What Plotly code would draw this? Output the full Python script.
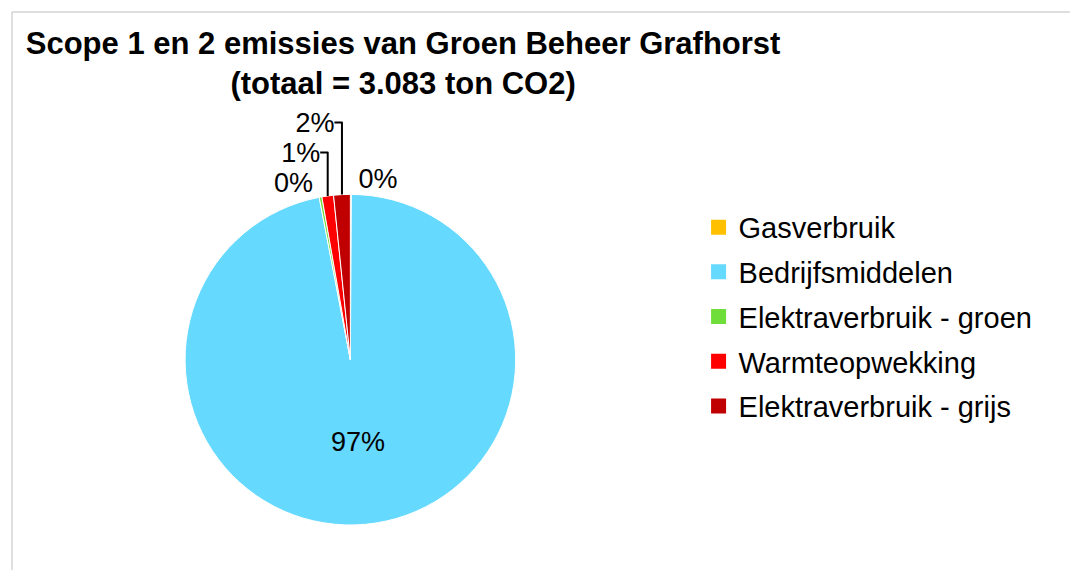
import plotly.graph_objects as go

labels = ["Gasverbruik", "Bedrijfsmiddelen", "Elektraverbruik - groen",
          "Warmteopwekking", "Elektraverbruik - grijs"]
values = [3, 2987, 8, 35, 50]  # ton CO2, total 3.083
colors = ["#FFC000", "#66D9FF", "#70DE3A", "#FF0000", "#C00000"]
text_pos = ["outside", "inside", "outside", "outside", "outside"]

FONT = "Liberation Sans, Arial, sans-serif"

fig = go.Figure()
fig.add_trace(go.Pie(
    labels=labels, values=values, sort=False, direction="clockwise", rotation=0,
    marker=dict(colors=colors, line=dict(color="white", width=1)),
    texttemplate="%{percent:.0%}", textposition=text_pos,
    textfont=dict(family=FONT, size=27, color="black"),
    insidetextorientation="horizontal",
    domain=dict(x=[0.1626, 0.4726], y=[0.093, 0.673]),
    showlegend=False,
))
for lab, col in zip(labels, colors):
    fig.add_trace(go.Scatter(
        x=[None], y=[None], mode="markers", name=lab, legendgroup=lab,
        marker=dict(symbol="square", size=15, color=col),
    ))

fig.update_layout(
    width=1078, height=570,
    margin=dict(l=0, r=0, t=0, b=0),
    paper_bgcolor="white", plot_bgcolor="white",
    xaxis=dict(visible=False), yaxis=dict(visible=False),
    title=dict(
        text="<b>Scope 1 en 2 emissies van Groen Beheer Grafhorst<br>(totaal = 3.083 ton CO2)</b>",
        x=0.3665, xanchor="center", y=0.92, yanchor="top",
        font=dict(family=FONT, size=31, color="black"),
    ),
    legend=dict(
        x=0.6406, xanchor="left", y=0.66, yanchor="top",
        font=dict(family=FONT, size=29, color="black"),
        tracegroupgap=4, itemwidth=30, bgcolor="rgba(0,0,0,0)",
    ),
    shapes=[dict(type="rect", xref="paper", yref="paper",
                 x0=0.0037, x1=1.01, y0=-0.01, y1=0.993,
                 line=dict(color="#BFBFBF", width=1), layer="below")],
)

fig.write_html("out.html")
